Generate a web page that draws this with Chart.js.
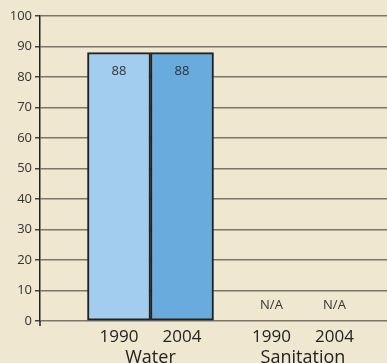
<!DOCTYPE html>
<html><head><meta charset="utf-8">
<script src="https://cdn.jsdelivr.net/npm/chart.js@4/dist/chart.umd.min.js"></script>
<style>html,body{margin:0;padding:0;background:#f0e7d0;}#wrap{width:387px;height:363px;}</style>
</head><body><div id="wrap"><canvas id="c" width="387" height="363"></canvas></div>
<script>
const groups = ['Water', 'Sanitation'];
const years = ['1990', '2004'];
const values1990 = [88, null];
const values2004 = [88, null];
const yTicks = [0, 10, 20, 30, 40, 50, 60, 70, 80, 90, 100];

const GROUP_STEP = 2.42; // layout spacing between groups in bar units
const colors = ['#a3cdee', '#6aabdd'];
const series = [values1990, values2004];

const datasets = series.map((vals, j) => ({
  label: years[j],
  data: groups.map((g, gi) => ({ x: gi * GROUP_STEP + j, y: vals[gi] })),
  backgroundColor: colors[j],
  borderColor: '#222',
  borderWidth: 2,
  borderSkipped: false,
  barThickness: 63,
  grouped: false,
  xAxisID: 'x', yAxisID: 'y'
}));

const yearTicks = [];
groups.forEach((g, gi) => years.forEach((y, j) => yearTicks.push({ value: gi * GROUP_STEP + j, label: y })));
const groupTicks = groups.map((g, gi) => ({ value: gi * GROUP_STEP + 0.5, label: g }));

const FONT = "'Open Sans', 'Noto Sans', sans-serif";
const XMIN = -79 / 63, XMAX = -79 / 63 + 347 / 63;

const labelPlugin = {
  id: 'vals',
  afterDatasetsDraw(chart) {
    const ctx = chart.ctx, xs = chart.scales.x, ys = chart.scales.y;
    ctx.save();
    ctx.font = '13px ' + FONT;
    ctx.fillStyle = '#333';
    ctx.textAlign = 'center';
    ctx.textBaseline = 'middle';
    chart.data.datasets.forEach(ds => {
      ds.data.forEach(p => {
        const px = xs.getPixelForValue(p.x);
        if (p.y == null) {
          ctx.fillText('N/A', px, ys.getPixelForValue(0) - 16);
        } else {
          ctx.fillText(String(p.y), px, ys.getPixelForValue(p.y) + 19);
        }
      });
    });
    // y-axis line stub below zero
    const x0 = chart.chartArea.left, yb = chart.chartArea.bottom;
    ctx.strokeStyle = '#222'; ctx.lineWidth = 1.5;
    ctx.beginPath(); ctx.moveTo(x0, yb); ctx.lineTo(x0, yb + 5); ctx.stroke();
    ctx.restore();
  }
};

new Chart(document.getElementById('c'), {
  type: 'bar',
  data: { datasets },
  plugins: [labelPlugin],
  options: {
    responsive: false,
    animation: false,
    layout: { padding: { top: 16, right: 0, left: 0, bottom: 0 } },
    plugins: { legend: { display: false }, tooltip: { enabled: false } },
    scales: {
      x: {
        type: 'linear', position: 'bottom', offset: false,
        min: XMIN, max: XMAX,
        afterBuildTicks(s) { s.ticks = yearTicks.map(t => ({ value: t.value })); },
        afterFit(s) { s.height = 26; },
        grid: { display: false, drawTicks: false },
        border: { display: false },
        ticks: {
          padding: 6,
          autoSkip: false, maxRotation: 0,
          color: '#222', font: { size: 17, family: FONT },
          callback: (v, i) => yearTicks[i] ? yearTicks[i].label : ''
        }
      },
      x2: {
        type: 'linear', position: 'bottom', offset: false,
        min: XMIN, max: XMAX,
        afterBuildTicks(s) { s.ticks = groupTicks.map(t => ({ value: t.value })); },
        afterFit(s) { s.height = 16; },
        grid: { display: false, drawTicks: false },
        border: { display: false },
        ticks: {
          padding: 0,
          autoSkip: false, maxRotation: 0,
          color: '#222', font: { size: 18, family: FONT },
          callback: (v, i) => groupTicks[i] ? groupTicks[i].label : ''
        }
      },
      y: {
        min: 0, max: 100,
        afterBuildTicks(s) { s.ticks = yTicks.map(v => ({ value: v })); },
        afterFit(s) { s.width = 40; },
        grid: { color: '#7d7668', lineWidth: 1.5, tickLength: 5, tickColor: '#444' },
        border: { display: true, color: '#222', width: 1.5 },
        ticks: { color: '#333', padding: 3, font: { size: 13, family: FONT } }
      }
    }
  }
});
</script></body></html>
